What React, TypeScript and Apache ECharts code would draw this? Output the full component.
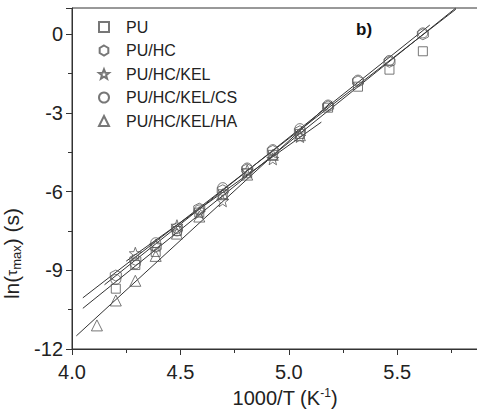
import React, { useEffect, useRef } from "react";
import * as echarts from "echarts";

// 1000/T values (K^-1)
const xVals = [4.115, 4.202, 4.292, 4.386, 4.484, 4.587, 4.695, 4.808, 4.926, 5.051, 5.181, 5.319, 5.464, 5.618];

const seriesNames = ["PU", "PU/HC", "PU/HC/KEL", "PU/HC/KEL/CS", "PU/HC/KEL/HA"];

// ln(tau_max) values, with the index of the first xVals entry for each series
const puStart = 1;
const puVals = [-9.7, -8.8, -8.3, -7.5, -6.8, -6.1, -5.3, -4.6, -3.8, -2.8, -2.0, -1.35, -0.65];
const hcStart = 1;
const hcVals = [-9.2, -8.6, -8.1, -7.4, -6.65, -5.95, -5.15, -4.45, -3.7, -2.75, -1.8, -1.05, 0.0];
const kelStart = 2;
const kelVals = [-8.35, -8.05, -7.3, -6.8, -6.35, -5.2, -4.75, -3.9];
const csStart = 1;
const csVals = [-9.35, -8.75, -7.95, -7.5, -6.7, -5.85, -5.1, -4.4, -3.6, -2.7, -1.75, -1.0, 0.05];
const haStart = 0;
const haVals = [-11.1, -10.15, -9.4, -8.45, -7.6, -6.95, -6.1, -5.35, -4.6, -3.85];

// linear fit lines (end points), same order as seriesNames
const fitX0 = [4.05, 4.15, 4.25, 4.05, 4.02];
const fitY0 = [-10.05, -9.55, -8.65, -10.45, -11.5];
const fitX1 = [5.77, 5.65, 5.15, 5.77, 5.2];
const fitY1 = [0.95, 0.35, -3.35, 1.0, -2.55];

const xTicks = [4.0, 4.5, 5.0, 5.5];
const yTicks = [0, -3, -6, -9, -12];

const HEX = "path://M0,-1 L0.866,-0.5 L0.866,0.5 L0,1 L-0.866,0.5 L-0.866,-0.5 Z";
const STAR =
  "path://M0,-1 L0.247,-0.340 L0.951,-0.309 L0.399,0.130 L0.588,0.809 L0,0.42 L-0.588,0.809 L-0.399,0.130 L-0.951,-0.309 L-0.247,-0.340 Z";

const FONT = "'Liberation Sans', Arial, sans-serif";

function pairs(start: number, vals: number[]) {
  return vals.map((v, i) => [xVals[start + i], v]);
}

export default function App() {
  const ref = useRef<HTMLDivElement>(null);
  useEffect(() => {
    if (!ref.current) return;
    const chart = echarts.init(ref.current, undefined, { renderer: "svg" });
    const symbols = ["rect", HEX, STAR, "circle", "triangle"];
    const sizes = [9, 11, 12, 10, 11];
    const datas = [
      pairs(puStart, puVals),
      pairs(hcStart, hcVals),
      pairs(kelStart, kelVals),
      pairs(csStart, csVals),
      pairs(haStart, haVals),
    ];
    const fitSeries = seriesNames.map((n, i) => ({
      type: "line",
      name: "fit " + n,
      data: [
        [fitX0[i], fitY0[i]],
        [fitX1[i], fitY1[i]],
      ],
      showSymbol: false,
      symbol: "none",
      lineStyle: { color: "#333", width: 1 },
      z: 1,
      silent: true,
    }));
    const scatterSeries = seriesNames.map((n, i) => ({
      type: "scatter",
      name: n,
      data: datas[i],
      symbol: symbols[i],
      symbolSize: sizes[i],
      itemStyle: { color: "rgba(0,0,0,0)", borderColor: "#555", borderWidth: 1 },
      z: 2,
    }));
    chart.setOption({
      animation: false,
      backgroundColor: "#fff",
      grid: {
        left: 72,
        top: 8,
        width: 412,
        height: 341,
        show: true,
        borderColor: "#333",
        borderWidth: 1,
        containLabel: false,
        outerBoundsMode: "none",
      },
      legend: {
        data: seriesNames,
        orient: "vertical",
        left: 93,
        top: 14,
        itemWidth: 10,
        itemHeight: 10,
        itemGap: 7.5,
        textStyle: { fontFamily: FONT, fontSize: 16, color: "#222", lineHeight: 16, padding: [0, 0, 0, 12] },
      },
      xAxis: {
        type: "value",
        min: 4.0,
        max: 5.9,
        interval: 0.5,
        name: "{a|1000/T (K}{p|-1}{a|)}",
        nameLocation: "middle",
        nameGap: 37,
        nameTextStyle: {
          padding: [0, 0, 0, 14],
          rich: {
            a: { fontFamily: FONT, fontSize: 20, color: "#222" },
            p: { fontFamily: FONT, fontSize: 12, color: "#222", padding: [0, 0, 10, 0] },
          },
        },
        axisLine: { onZero: false, lineStyle: { color: "#333", width: 1 } },
        axisTick: { show: true, inside: false, length: 6, lineStyle: { color: "#333" } },
        minorTick: { show: true, splitNumber: 2, length: 4, lineStyle: { color: "#333" } },
        splitLine: { show: false },
        axisLabel: {
          fontFamily: FONT,
          fontSize: 20,
          color: "#222",
          margin: 13,
          formatter: (v: number) => (xTicks.some((t) => Math.abs(t - v) < 1e-6) ? v.toFixed(1) : ""),
        },
      },
      yAxis: {
        type: "value",
        min: -12,
        max: 1,
        interval: 3,
        name: "{a|ln(}{t|τ}{s|max}{a|) (s)}",
        nameLocation: "middle",
        nameGap: 32,
        nameTextStyle: {
          padding: [0, 150, 0, 0],
          rich: {
            a: { fontFamily: FONT, fontSize: 21, color: "#222" },
            t: { fontFamily: FONT, fontSize: 15, color: "#222" },
            s: { fontFamily: FONT, fontSize: 13, color: "#222", padding: [11, 0, 0, 0] },
          },
        },
        axisLine: { onZero: false, lineStyle: { color: "#333", width: 1 } },
        axisTick: { show: true, inside: false, length: 6, lineStyle: { color: "#333" } },
        minorTick: { show: true, splitNumber: 2, length: 4, lineStyle: { color: "#333" } },
        splitLine: { show: false },
        axisLabel: {
          fontFamily: FONT,
          fontSize: 20,
          color: "#222",
          margin: 9,
          formatter: (v: number) => (yTicks.includes(v) ? String(v) : ""),
        },
      },
      graphic: [
        {
          type: "text",
          left: 356,
          top: 21,
          style: { text: "b)", font: "bold 17px " + FONT, fill: "#111" },
        },
      ],
      series: [...fitSeries, ...scatterSeries],
    });
    return () => chart.dispose();
  }, []);
  return <div ref={ref} style={{ position: "absolute", left: 0, top: 0, width: 477, height: 410 }} />;
}
